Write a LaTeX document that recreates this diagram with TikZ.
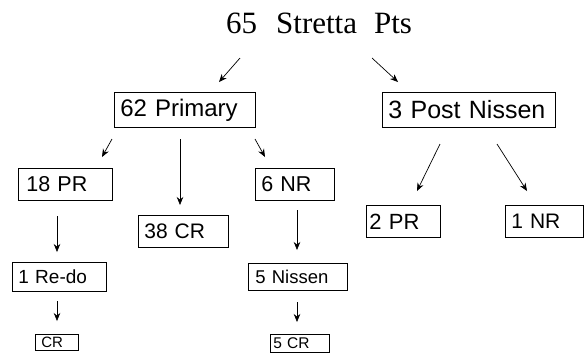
\documentclass[tikz,border=0pt]{standalone}
\usepackage{fontspec}
\setmainfont{Liberation Sans}
\newfontfamily\titlefont{Liberation Serif}
\usetikzlibrary{arrows.meta}
\begin{document}
\begin{tikzpicture}[x=1pt,y=-1pt,
  boxed/.style={draw, line width=0.7pt, inner xsep=6pt, inner ysep=0pt, align=left, anchor=north west},
  arr/.style={-{Stealth[length=8pt,width=6.5pt]}, line width=0.7pt}]
\useasboundingbox (0,0) rectangle (586,360);
\node[anchor=base west, inner sep=0pt, font=\titlefont\fontsize{31}{36}\selectfont] (title) at (226,33) {65\hspace{19pt}Stretta\hspace{17pt}Pts};
% level 1
\node[boxed, text width=129pt, minimum height=35pt, font=\fontsize{24}{28}\selectfont] (primary) at (114,92) {62 Primary};
\node[boxed, text width=161pt, minimum height=35pt, font=\fontsize{25}{29}\selectfont] (postn) at (382,92) {3 Post Nissen};
% level 2
\node[boxed, inner xsep=8pt, text width=78pt, minimum height=32pt, font=\fontsize{21.5}{25}\selectfont] (pr18) at (18,168) {18 PR};
\node[boxed, text width=78pt, minimum height=32pt, font=\fontsize{21}{25}\selectfont] (cr38) at (138,215) {38 CR};
\node[boxed, text width=67pt, minimum height=32pt, font=\fontsize{21.5}{25}\selectfont] (nr6) at (255,168) {6 NR};
\node[boxed, inner xsep=3pt, text width=68pt, minimum height=32pt, font=\fontsize{22}{26}\selectfont] (pr2) at (366,205) {2 PR};
\node[boxed, text width=66pt, minimum height=32pt, font=\fontsize{21}{25}\selectfont] (nr1) at (505,205) {1 NR};
% level 3
\node[boxed, text width=82pt, minimum height=29pt, font=\fontsize{19}{23}\selectfont] (redo) at (12,262) {1 Re-do};
\node[boxed, inner xsep=7pt, text width=85pt, minimum height=27pt, font=\fontsize{18.5}{22}\selectfont] (nissen5) at (248,263) {5 Nissen};
% level 4
\node[boxed, text width=31pt, minimum height=16pt, font=\fontsize{15}{18}\selectfont] (cr) at (35,334) {CR};
\node[boxed, inner xsep=3pt, text width=53pt, minimum height=18pt, font=\fontsize{15.5}{18}\selectfont] (cr5) at (270,334) {5 CR};
% arrow end points
\coordinate (t1s) at (240,58);  \coordinate (t1e) at (219,82);
\coordinate (t2s) at (372,58);  \coordinate (t2e) at (398,82);
\coordinate (p1s) at (112,139); \coordinate (p1e) at (102,157);
\coordinate (p2s) at (180,139); \coordinate (p2e) at (180,205);
\coordinate (p3s) at (255,139); \coordinate (p3e) at (265,157);
\coordinate (n1s) at (440,144); \coordinate (n1e) at (417,191);
\coordinate (n2s) at (497,144); \coordinate (n2e) at (527,191);
\coordinate (v1s) at (57,216);  \coordinate (v1e) at (57,252);
\coordinate (v2s) at (57,301);  \coordinate (v2e) at (57,321);
\coordinate (v3s) at (297,210); \coordinate (v3e) at (297,250);
\coordinate (v4s) at (297,302); \coordinate (v4e) at (297,322);
\draw[arr] (t1s) -- (t1e);
\draw[arr] (t2s) -- (t2e);
\draw[arr] (p1s) -- (p1e);
\draw[arr] (p2s) -- (p2e);
\draw[arr] (p3s) -- (p3e);
\draw[arr] (n1s) -- (n1e);
\draw[arr] (n2s) -- (n2e);
\draw[arr] (v1s) -- (v1e);
\draw[arr] (v2s) -- (v2e);
\draw[arr] (v3s) -- (v3e);
\draw[arr] (v4s) -- (v4e);
\end{tikzpicture}
\end{document}
